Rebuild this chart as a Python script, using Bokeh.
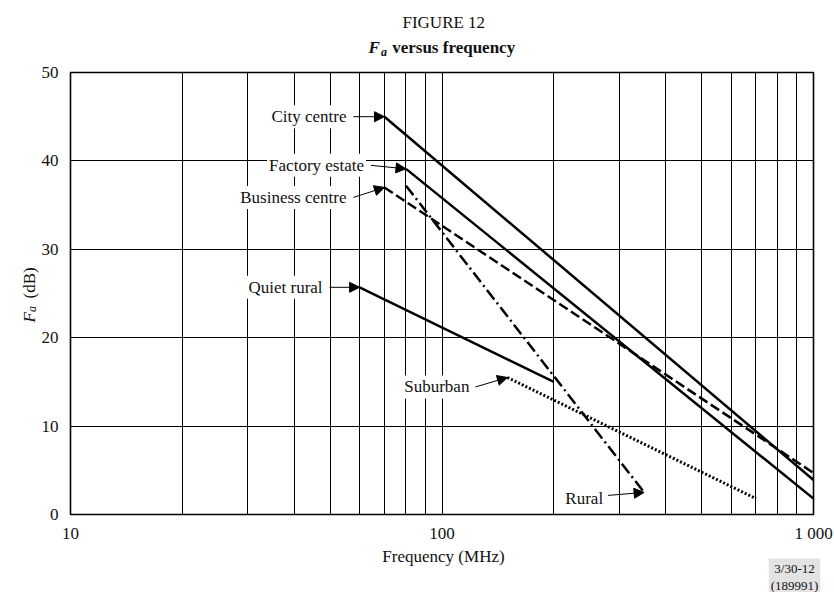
import math
from bokeh.plotting import figure
from bokeh.models import Range1d, FixedTicker, Label, Arrow, NormalHead, CustomJSTickFormatter
from bokeh.core.properties import value
from bokeh.embed import file_html
from bokeh.resources import INLINE

FONT = "Liberation Serif"

# ---- data ----
city_f = [70, 1000]
city_fa = [45.0, 3.9]
factory_f = [80, 1000]
factory_fa = [39.1, 1.8]
business_f = [70, 1000]
business_fa = [37.0, 4.7]
quiet_f = [60, 200]
quiet_fa = [25.7, 15.0]
suburban_f = [150, 700]
suburban_fa = [15.5, 1.8]
rural_f = [80, 350]
rural_fa = [37.2, 2.5]

x_ticks = [10, 100, 1000]
x_grid = [20, 30, 40, 50, 60, 70, 80, 90, 100, 200, 300, 400, 500, 600, 700, 800, 900]
y_ticks = [0, 10, 20, 30, 40, 50]
y_grid = [10, 20, 30, 40]

# ---- layout ----
W, H = 834, 592
BL, BR, BT, BB = 70, 21, 72, 78
FW = W - BL - BR
FH = H - BT - BB
X0, X1 = 10, 1000
Y0, Y1 = 0, 50
DEC = FW / (math.log10(X1) - math.log10(X0))   # px per decade
PPU = FH / (Y1 - Y0)                            # px per dB


def dx_at(px):
    """data x of a canvas pixel column"""
    return X0 * 10 ** ((px - BL) / DEC)


def dy_at(py):
    """data y of a canvas pixel row"""
    return Y0 + (BT + FH - py) / PPU


p = figure(width=W, height=H, x_axis_type="log",
           x_range=Range1d(X0, X1), y_range=Range1d(Y0, Y1),
           output_backend="svg", toolbar_location=None,
           min_border_left=BL, min_border_right=BR,
           min_border_top=BT, min_border_bottom=BB)
p.background_fill_color = "white"
p.border_fill_color = "white"
p.outline_line_color = "black"
p.outline_line_width = 1.6

for ax in (p.xaxis, p.yaxis):
    ax.axis_line_color = None
    ax.major_tick_line_color = None
    ax.minor_tick_line_color = None
    ax.major_tick_out = 0
    ax.major_tick_in = 0
    ax.minor_tick_out = 0
    ax.minor_tick_in = 0
    ax.major_label_text_font = FONT
    ax.major_label_text_font_size = "17px"
    ax.major_label_text_color = "#111111"
p.xaxis.ticker = FixedTicker(ticks=x_ticks)
p.yaxis.ticker = FixedTicker(ticks=y_ticks)
p.xaxis.formatter = CustomJSTickFormatter(code="""
    const s = Math.round(tick).toString();
    return s.length > 3 ? s.slice(0, -3) + ' ' + s.slice(-3) : s;
""")
p.xaxis.major_label_standoff = 9
p.yaxis.major_label_standoff = 12

p.xgrid.ticker = FixedTicker(ticks=x_grid)
p.ygrid.ticker = FixedTicker(ticks=y_grid)
for g in (p.xgrid, p.ygrid):
    g.grid_line_color = "black"
    g.grid_line_width = 1
    g.grid_line_alpha = 1.0

LW = 2.5
p.line(city_f, city_fa, line_width=LW, color="black")
p.line(factory_f, factory_fa, line_width=LW, color="black")
p.line(business_f, business_fa, line_width=LW, color="black", line_dash="10 4")
p.line(quiet_f, quiet_fa, line_width=LW, color="black")
p.line(suburban_f, suburban_fa, line_width=3, color="black", line_dash="2 2")
p.line(rural_f, rural_fa, line_width=LW, color="black", line_dash="12 4 2 4")


def annotate(text, fx, fy, dx, dy, lx=-5, ly=0):
    """Arrow from a label to the point (fx, fy); dx, dy: tail offset in px (dy down)."""
    xs = fx * 10 ** (dx / DEC)
    ys = fy - dy / PPU
    p.add_layout(Arrow(end=NormalHead(size=10, fill_color="black", line_color="black", line_width=1),
                       x_start=xs, y_start=ys, x_end=fx, y_end=fy,
                       line_width=1, line_color="black"))
    p.add_layout(Label(x=xs, y=ys, x_offset=lx, y_offset=ly, text=text,
                       text_align="right", text_baseline="middle",
                       text_font=FONT, text_font_size="17px", text_color="#111111",
                       background_fill_color="white", padding=2))


annotate("City centre", city_f[0], city_fa[0], -31, 0)
annotate("Factory estate", factory_f[0], factory_fa[0], -35, -3.5)
annotate("Business centre", business_f[0], business_fa[0], -31, 10)
annotate("Quiet rural", quiet_f[0], quiet_fa[0], -30, 0)
annotate("Suburban", suburban_f[0], suburban_fa[0], -32, 9.5, lx=-4)
annotate("Rural", rural_f[-1], rural_fa[-1], -36, 3, lx=-3, ly=-3)


def outer_text(px, py, text, size="17px", style="normal", align="left",
               baseline="alphabetic", angle=0.0, **kw):
    """Text outside the frame (overlay level, so it is not clipped)."""
    p.text(x=[dx_at(px)], y=[dy_at(py)], text=[text], angle=angle,
           text_font=value(FONT), text_font_size=value(size),
           text_font_style=value(style), text_align=value(align),
           text_baseline=value(baseline), text_color="#111111",
           level="overlay", **kw)


# title
outer_text(443.3, 21.7, "FIGURE 12", align="center")
outer_text(368, 46.7, "F", style="bold italic")
outer_text(380.5, 51, "a", size="12px", style="bold italic")
outer_text(391.7, 46.7, "versus frequency", style="bold")

# y axis label
outer_text(28.5, 322, "F", style="italic", angle=math.pi / 2)
outer_text(31, 311.4, "a", size="12px", style="italic", angle=math.pi / 2)
outer_text(28.5, 298, "(dB)", angle=math.pi / 2)

# x axis label
outer_text(443, 556, "Frequency (MHz)", align="center")

# figure reference
outer_text(794, 558, "3/30-12\n(189991)", size="13px", align="center", baseline="top",
           text_line_height=1.15, background_fill_color="#e3e3e3", padding=2)

open("out.html", "w").write(file_html(p, INLINE))
